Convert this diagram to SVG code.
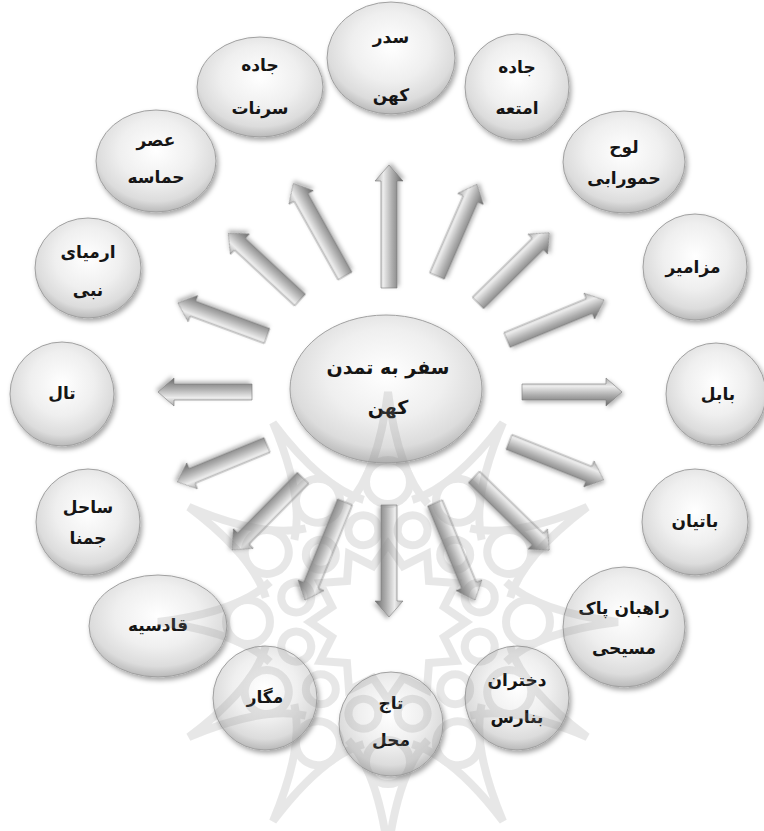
<svg xmlns="http://www.w3.org/2000/svg" xmlns:xlink="http://www.w3.org/1999/xlink" width="764" height="831" viewBox="0 0 764 831">
<style>
  .lbl { font-family: "DejaVu Sans", "Noto Sans", sans-serif; font-size: 17px; font-weight: bold; fill: #151515; text-anchor: middle; }
  .big { font-size: 19px; }
  .node { fill: url(#sphere); stroke: #a0a0a0; stroke-width: 1; filter: url(#shadow); }
  .arr { fill: url(#arrowGrad); stroke: #7a7a7a; stroke-width: 0.6; filter: url(#ashadow); }
  .wm { fill: none; stroke: #8c8c8c; stroke-width: 8; }
</style>
<defs>
  <radialGradient id="sphere" cx="50%" cy="40%" r="62%">
    <stop offset="0" stop-color="#ffffff"/>
    <stop offset="0.5" stop-color="#efefef"/>
    <stop offset="0.8" stop-color="#dcdcdc"/>
    <stop offset="0.95" stop-color="#bdbdbd"/>
    <stop offset="1" stop-color="#9a9a9a"/>
  </radialGradient>
  <linearGradient id="arrowGrad" x1="0" y1="0" x2="0" y2="1">
    <stop offset="0" stop-color="#a9a9a9"/>
    <stop offset="0.3" stop-color="#ececec"/>
    <stop offset="0.6" stop-color="#b0b0b0"/>
    <stop offset="1" stop-color="#6a6a6a"/>
  </linearGradient>
  <filter id="shadow" x="-20%" y="-20%" width="140%" height="140%">
    <feDropShadow dx="2" dy="3" stdDeviation="2.5" flood-color="#000" flood-opacity="0.35"/>
  </filter>
  <filter id="ashadow" x="-20%" y="-50%" width="140%" height="200%">
    <feDropShadow dx="2" dy="2" stdDeviation="2" flood-color="#000" flood-opacity="0.3"/>
  </filter>
  <g id="petal">
    <circle cx="0" cy="-140" r="22"/>
    <circle cx="0" cy="-95" r="15" transform="rotate(15)"/>
    <path d="M-40,-118 Q-10,-150 0,-230 Q10,-150 40,-118"/>
  </g>
</defs>
<rect width="764" height="831" fill="#ffffff"/>

<g id="nodes">
  <g id="center">
    <ellipse class="node" cx="386" cy="389" rx="96" ry="74"/>
    <text class="lbl big" x="388" y="374">سفر به تمدن</text>
    <text class="lbl big" x="388" y="414">کهن</text>
  </g>
  <g id="n-sedr">
    <ellipse class="node" cx="391" cy="58" rx="64" ry="56"/>
    <text class="lbl" x="391" y="43">سدر</text>
    <text class="lbl" x="391" y="101">کهن</text>
  </g>
  <g id="n-jadeh-amte">
    <ellipse class="node" cx="517" cy="87" rx="52" ry="53"/>
    <text class="lbl" x="517" y="73">جاده</text>
    <text class="lbl" x="517" y="114">امتعه</text>
  </g>
  <g id="n-louh">
    <ellipse class="node" cx="624" cy="162" rx="61" ry="51"/>
    <text class="lbl" x="624" y="153">لوح</text>
    <text class="lbl" x="624" y="184">حمورابی</text>
  </g>
  <g id="n-mazamir">
    <ellipse class="node" cx="695" cy="267" rx="52" ry="53"/>
    <text class="lbl" x="693" y="273">مزامیر</text>
  </g>
  <g id="n-babel">
    <ellipse class="node" cx="716" cy="394" rx="50" ry="51"/>
    <text class="lbl" x="718" y="400">بابل</text>
  </g>
  <g id="n-batian">
    <ellipse class="node" cx="695" cy="522" rx="53" ry="53"/>
    <text class="lbl" x="695" y="527">باتیان</text>
  </g>
  <g id="n-rahban">
    <ellipse class="node" cx="624" cy="627" rx="61" ry="60"/>
    <text class="lbl" x="624" y="614">راهبان پاک</text>
    <text class="lbl" x="624" y="654">مسیحی</text>
  </g>
  <g id="n-dokhtaran">
    <ellipse class="node" cx="517" cy="698" rx="52" ry="52"/>
    <text class="lbl" x="517" y="686">دختران</text>
    <text class="lbl" x="517" y="723">بنارس</text>
  </g>
  <g id="n-taj">
    <ellipse class="node" cx="391" cy="724" rx="52" ry="52"/>
    <text class="lbl" x="391" y="709">تاج</text>
    <text class="lbl" x="391" y="746">محل</text>
  </g>
  <g id="n-megar">
    <ellipse class="node" cx="265" cy="698" rx="52" ry="52"/>
    <text class="lbl" x="265" y="703">مگار</text>
  </g>
  <g id="n-qadesiyeh">
    <ellipse class="node" cx="158" cy="626" rx="69" ry="51"/>
    <text class="lbl" x="158" y="631">قادسیه</text>
  </g>
  <g id="n-sahel">
    <ellipse class="node" cx="88" cy="522" rx="52" ry="53"/>
    <text class="lbl" x="88" y="513">ساحل</text>
    <text class="lbl" x="88" y="544">جمنا</text>
  </g>
  <g id="n-tal">
    <ellipse class="node" cx="62" cy="394" rx="52" ry="52"/>
    <text class="lbl" x="62" y="399">تال</text>
  </g>
  <g id="n-armia">
    <ellipse class="node" cx="88" cy="268" rx="53" ry="50"/>
    <text class="lbl" x="88" y="258">ارمیای</text>
    <text class="lbl" x="88" y="296">نبی</text>
  </g>
  <g id="n-asr">
    <ellipse class="node" cx="156" cy="161" rx="60" ry="51"/>
    <text class="lbl" x="156" y="146">عصر</text>
    <text class="lbl" x="156" y="183">حماسه</text>
  </g>
  <g id="n-sarnat">
    <ellipse class="node" cx="260" cy="87" rx="63" ry="50"/>
    <text class="lbl" x="260" y="71">جاده</text>
    <text class="lbl" x="260" y="114">سرنات</text>
  </g>
</g>

<g id="connectors">
  <path class="arr" transform="translate(389,288) rotate(-90)" d="M0,-8 H107 V-14 L123,0 L107,14 V8 H0 Z"/>
  <path class="arr" transform="translate(437,276) rotate(-66.5)" d="M0,-8 H84 V-14 L100,0 L84,14 V8 H0 Z"/>
  <path class="arr" transform="translate(478,303) rotate(-44.6)" d="M0,-8 H84 V-14 L100,0 L84,14 V8 H0 Z"/>
  <path class="arr" transform="translate(507,340) rotate(-22.4)" d="M0,-8 H89 V-14 L105,0 L89,14 V8 H0 Z"/>
  <path class="arr" transform="translate(522,392)" d="M0,-8 H84 V-14 L100,0 L84,14 V8 H0 Z"/>
  <path class="arr" transform="translate(509,442) rotate(21.8)" d="M0,-8 H86 V-14 L102,0 L86,14 V8 H0 Z"/>
  <path class="arr" transform="translate(474,477) rotate(44.2)" d="M0,-8 H89 V-14 L105,0 L89,14 V8 H0 Z"/>
  <path class="arr" transform="translate(435,503) rotate(67.6)" d="M0,-8 H89 V-14 L105,0 L89,14 V8 H0 Z"/>
  <path class="arr" transform="translate(389,505) rotate(90)" d="M0,-8 H96 V-14 L112,0 L96,14 V8 H0 Z"/>
  <path class="arr" transform="translate(345,502) rotate(112.2)" d="M0,-8 H90 V-14 L106,0 L90,14 V8 H0 Z"/>
  <path class="arr" transform="translate(303,478) rotate(134.6)" d="M0,-8 H85 V-14 L101,0 L85,14 V8 H0 Z"/>
  <path class="arr" transform="translate(267,445) rotate(157.6)" d="M0,-8 H81 V-14 L97,0 L81,14 V8 H0 Z"/>
  <path class="arr" transform="translate(252,392) rotate(180)" d="M0,-8 H78 V-14 L94,0 L78,14 V8 H0 Z"/>
  <path class="arr" transform="translate(267,336) rotate(-159.7)" d="M0,-8 H79 V-14 L95,0 L79,14 V8 H0 Z"/>
  <path class="arr" transform="translate(300,300) rotate(-137.1)" d="M0,-8 H82 V-14 L98,0 L82,14 V8 H0 Z"/>
  <path class="arr" transform="translate(345,276) rotate(-119.2)" d="M0,-8 H90 V-14 L106,0 L90,14 V8 H0 Z"/>
</g>

<g id="watermark" class="wm" opacity="0.2" transform="translate(388,622)">
  <polygon points="0,-78 15,-56 39,-68 41,-41 68,-39 56,-15 78,0 56,15 68,39 41,41 39,68 15,56 0,78 -15,56 -39,68 -41,41 -68,39 -56,15 -78,0 -56,-15 -68,-39 -41,-41 -39,-68 -15,-56"/>
  <use xlink:href="#petal"/>
  <use xlink:href="#petal" transform="rotate(30)"/>
  <use xlink:href="#petal" transform="rotate(60)"/>
  <use xlink:href="#petal" transform="rotate(90)"/>
  <use xlink:href="#petal" transform="rotate(120)"/>
  <use xlink:href="#petal" transform="rotate(150)"/>
  <use xlink:href="#petal" transform="rotate(180)"/>
  <use xlink:href="#petal" transform="rotate(210)"/>
  <use xlink:href="#petal" transform="rotate(240)"/>
  <use xlink:href="#petal" transform="rotate(270)"/>
  <use xlink:href="#petal" transform="rotate(300)"/>
  <use xlink:href="#petal" transform="rotate(330)"/>
</g>
</svg>
